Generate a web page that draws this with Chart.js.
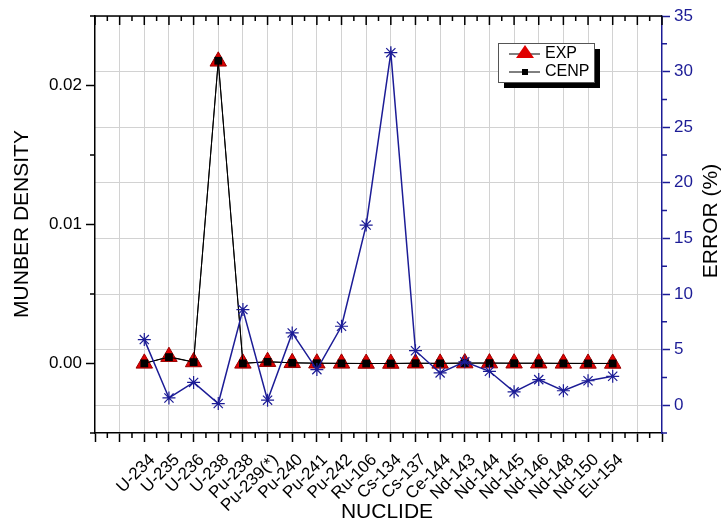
<!DOCTYPE html>
<html>
<head>
<meta charset="utf-8">
<title>Nuclide density and error</title>
<script src="https://cdn.jsdelivr.net/npm/chart.js@4.4.0/dist/chart.umd.min.js"></script>
<style>
  html, body { margin: 0; padding: 0; background: #fff; }
  #chart { display: block; }
</style>
</head>
<body>
<canvas id="chart" width="725" height="524"></canvas>
<script>
// Nuclides on the x axis
var nuclides = ['U-234', 'U-235', 'U-236', 'U-238', 'Pu-238', 'Pu-239(*)', 'Pu-240', 'Pu-241', 'Pu-242', 'Ru-106',
  'Cs-134', 'Cs-137', 'Ce-144', 'Nd-143', 'Nd-144', 'Nd-145', 'Nd-146', 'Nd-148', 'Nd-150', 'Eu-154'];

// Number density (left axis)
var expValues = [0.00001, 0.00049, 0.00011, 0.02174, 0.00001, 0.00013, 0.00005, 0.00002, 0.00001, 0.000001,
  0.000001, 0.00002, 0.00001, 0.00003, 0.00003, 0.00002, 0.00002, 0.00001, 0.000005, 0.000003];
var cenpValues = [0.00001, 0.00046, 0.00010, 0.02178, 0.00001, 0.00012, 0.00005, 0.00002, 0.00001, 0.000001,
  0.000001, 0.00002, 0.00001, 0.00003, 0.00003, 0.00002, 0.00002, 0.00001, 0.000005, 0.000003];

// Relative error in % (right axis)
var errorValues = [5.9, 0.65, 2.05, 0.15, 8.6, 0.45, 6.5, 3.2, 7.1, 16.2,
  31.7, 4.9, 2.9, 3.9, 3.05, 1.2, 2.3, 1.3, 2.2, 2.6];

// Tick values
var densityTicks = [0, 0.01, 0.02];
var errorTicks = [0, 5, 10, 15, 20, 25, 30, 35];

var NAVY = '#1c1c96';
var FONT = 'Arial, "Liberation Sans", sans-serif';

function points(values) {
  return values.map(function(v, i) { return { x: i, y: v }; });
}

// Minor ticks, top border, axis titles and the boxed legend
var extras = {
  id: 'extras',
  afterDraw: function(chart) {
    var ctx = chart.ctx;
    var a = chart.chartArea;
    var sx = chart.scales.x;
    var sy = chart.scales.y;
    var sy1 = chart.scales.y1;
    var i, p;

    ctx.save();
    ctx.lineWidth = 1.5;

    // top border + ticks (pointing inward)
    ctx.strokeStyle = '#000';
    ctx.beginPath();
    ctx.moveTo(a.left, a.top);
    ctx.lineTo(a.right, a.top);
    for (i = -2; i <= 21; i++) {
      p = sx.getPixelForValue(i);
      ctx.moveTo(p, a.top);
      ctx.lineTo(p, a.top + 9);
    }
    for (i = -1.5; i <= 20.5; i++) {
      p = sx.getPixelForValue(i);
      ctx.moveTo(p, a.top);
      ctx.lineTo(p, a.top + 5);
      ctx.moveTo(p, a.bottom);
      ctx.lineTo(p, a.bottom + 5);
    }
    // left minor ticks
    for (i = -0.005; i <= 0.0251; i += 0.01) {
      p = sy.getPixelForValue(i);
      ctx.moveTo(a.left, p);
      ctx.lineTo(a.left - 5, p);
    }
    ctx.stroke();

    // right minor ticks
    ctx.strokeStyle = NAVY;
    ctx.beginPath();
    for (i = -2.5; i <= 35; i += 5) {
      p = sy1.getPixelForValue(i);
      ctx.moveTo(a.right, p);
      ctx.lineTo(a.right + 5, p);
    }
    ctx.stroke();

    // axis titles
    ctx.fillStyle = '#000';
    ctx.font = '21px ' + FONT;
    ctx.textAlign = 'center';
    ctx.textBaseline = 'middle';
    ctx.fillText('NUCLIDE', 387, 512);

    ctx.save();
    ctx.translate(22, 224);
    ctx.rotate(-Math.PI / 2);
    ctx.fillText('MUNBER DENSITY', 0, 0);
    ctx.restore();

    ctx.save();
    ctx.translate(711, 221);
    ctx.rotate(-Math.PI / 2);
    ctx.fillText('ERROR (%)', 0, 0);
    ctx.restore();

    // legend with drop shadow
    var lx = 498, ly = 43, lw = 96, lh = 39;
    ctx.fillStyle = '#000';
    ctx.fillRect(lx + 6, ly + 6, lw, lh);
    ctx.fillStyle = '#fff';
    ctx.fillRect(lx, ly, lw, lh);
    ctx.lineWidth = 1;
    ctx.strokeStyle = '#555';
    ctx.strokeRect(lx + 0.5, ly + 0.5, lw, lh);

    ctx.strokeStyle = '#000';
    ctx.beginPath();
    ctx.moveTo(509, 54);
    ctx.lineTo(540, 54);
    ctx.moveTo(509, 72);
    ctx.lineTo(540, 72);
    ctx.stroke();

    // triangle and square markers
    ctx.fillStyle = '#e00000';
    ctx.beginPath();
    ctx.moveTo(525, 45);
    ctx.lineTo(534, 58);
    ctx.lineTo(516, 58);
    ctx.closePath();
    ctx.fill();
    ctx.fillStyle = '#000';
    ctx.fillRect(522, 69, 6, 6);

    ctx.font = '16px ' + FONT;
    ctx.textAlign = 'left';
    ctx.fillText('EXP', 545, 54);
    ctx.fillText('CENP', 545, 72);

    ctx.restore();
  }
};

var ctx = document.getElementById('chart').getContext('2d');
var chart = new Chart(ctx, {
  type: 'line',
  data: {
    datasets: [
      {
        label: 'ERROR',
        data: points(errorValues),
        yAxisID: 'y1',
        borderColor: NAVY,
        borderWidth: 1.5,
        pointStyle: 'star',
        pointRadius: 6.5,
        pointBorderColor: NAVY,
        pointBorderWidth: 1.2,
        order: 0
      },
      {
        label: 'CENP',
        data: points(cenpValues),
        yAxisID: 'y',
        borderColor: '#000',
        borderWidth: 1,
        pointStyle: 'rect',
        pointRadius: 5.5,
        pointBackgroundColor: '#000',
        pointBorderColor: '#000',
        pointBorderWidth: 0,
        order: 1
      },
      {
        label: 'EXP',
        data: points(expValues),
        yAxisID: 'y',
        borderColor: '#000',
        borderWidth: 1,
        pointStyle: 'triangle',
        pointRadius: 9.5,
        pointBackgroundColor: '#e00000',
        pointBorderColor: '#9a0000',
        pointBorderWidth: 1,
        order: 2
      }
    ]
  },
  options: {
    responsive: false,
    animation: false,
    devicePixelRatio: 1,
    layout: { padding: { top: 16, left: 0, right: 0, bottom: 0 } },
    plugins: {
      legend: { display: false },
      tooltip: { enabled: false }
    },
    scales: {
      x: {
        type: 'linear',
        position: 'bottom',
        min: -2,
        max: 21,
        afterFit: function(scale) { scale.height = 91; },
        afterBuildTicks: function(scale) {
          var t = [];
          for (var i = -2; i <= 21; i++) t.push({ value: i });
          scale.ticks = t;
        },
        ticks: {
          autoSkip: false,
          maxRotation: 45,
          minRotation: 45,
          padding: 8,
          labelOffset: 8,
          color: '#000',
          font: { family: FONT, size: 17 },
          callback: function(v) { return nuclides[v] || ''; }
        },
        grid: {
          color: function(c) {
            return (c.tick && (c.tick.value === -2 || c.tick.value === 21)) ? 'rgba(0,0,0,0)' : '#d2d2d2';
          },
          lineWidth: 1,
          tickLength: 9,
          tickColor: '#000',
          tickWidth: 1.5
        },
        border: { display: true, color: '#000', width: 1.5 }
      },
      y: {
        type: 'linear',
        position: 'left',
        min: -0.005,
        max: 0.025,
        afterFit: function(scale) { scale.width = 95; },
        afterBuildTicks: function(scale) {
          scale.ticks = densityTicks.map(function(v) { return { value: v }; });
        },
        ticks: {
          padding: 4,
          color: '#000',
          font: { family: FONT, size: 17 },
          callback: function(v) { return v.toFixed(2); }
        },
        grid: {
          drawOnChartArea: false,
          tickLength: 9,
          tickColor: '#000',
          tickWidth: 1.5
        },
        border: { display: true, color: '#000', width: 1.5 }
      },
      y1: {
        type: 'linear',
        position: 'right',
        min: -2.5,
        max: 35,
        afterFit: function(scale) { scale.width = 63; },
        afterBuildTicks: function(scale) {
          scale.ticks = errorTicks.map(function(v) { return { value: v }; });
        },
        ticks: {
          padding: 4,
          color: NAVY,
          font: { family: FONT, size: 17 }
        },
        grid: {
          drawOnChartArea: true,
          color: '#d2d2d2',
          lineWidth: 1,
          tickLength: 8,
          tickColor: NAVY,
          tickWidth: 1.5
        },
        border: { display: true, color: NAVY, width: 1.5 }
      }
    }
  },
  plugins: [extras]
});
</script>
</body>
</html>
